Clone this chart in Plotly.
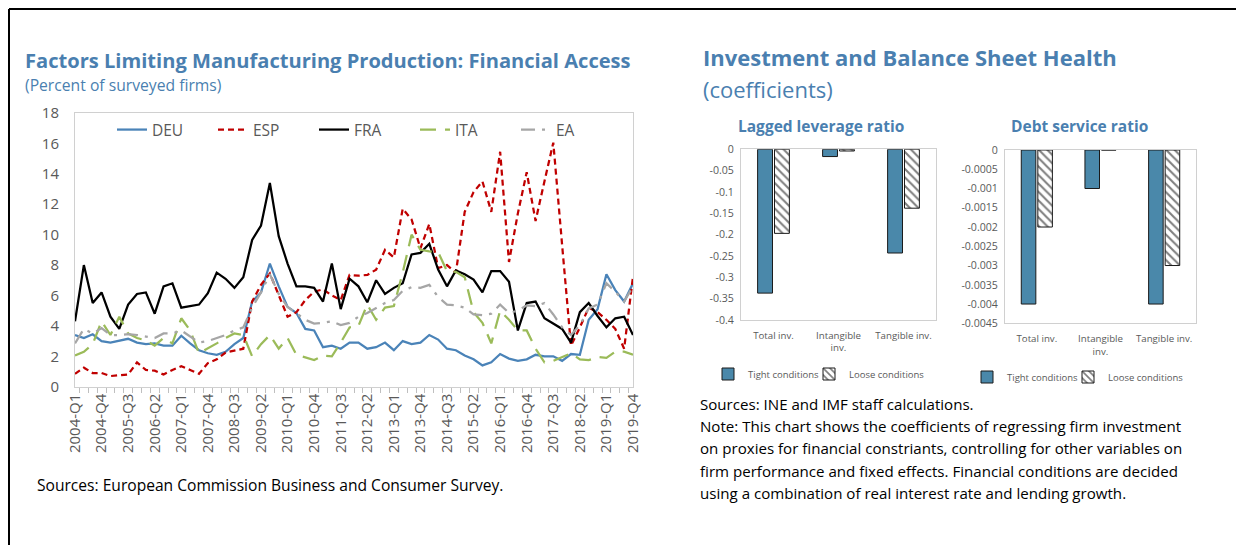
import plotly.graph_objects as go

# quarters 2004-Q1 .. 2019-Q4
quarters = [f"{y}-Q{q}" for y in range(2004, 2020) for q in range(1, 5)]

deu = [3.4, 3.2, 3.45, 3.0, 2.9, 3.05, 3.15, 2.9, 2.8, 2.85, 2.7, 2.7, 3.35, 2.85, 2.4, 2.2,
       2.1, 2.3, 2.8, 3.2, 5.6, 6.2, 8.1, 6.6, 5.25, 4.85, 3.8, 3.7, 2.6, 2.7, 2.5, 2.9,
       2.9, 2.5, 2.6, 2.9, 2.4, 3.0, 2.8, 2.9, 3.4, 3.1, 2.5, 2.4, 2.05, 1.8, 1.4, 1.6,
       2.15, 1.85, 1.7, 1.8, 2.1, 2.0, 2.0, 1.7, 2.15, 2.1, 4.4, 5.1, 7.4, 6.35, 5.6, 6.8]
esp = [0.85, 1.25, 0.9, 0.9, 0.7, 0.75, 0.8, 1.6, 1.1, 1.05, 0.8, 1.1, 1.35, 1.1, 0.85, 1.55,
       1.8, 2.25, 2.35, 2.5, 5.6, 6.7, 7.45, 6.0, 4.6, 4.9, 5.7, 6.25, 6.4, 6.0, 5.7, 7.35,
       7.3, 7.35, 7.7, 9.0, 8.5, 11.7, 11.0, 9.1, 10.7, 7.8, 8.0, 7.5, 11.5, 12.8, 13.5, 11.5,
       15.45, 8.2, 11.4, 14.1, 10.9, 13.5, 16.05, 9.3, 2.7, 3.9, 5.2, 4.9, 4.4, 3.8, 2.5, 7.25]
fra = [4.3, 8.0, 5.5, 6.2, 4.6, 3.8, 5.4, 6.1, 6.2, 4.8, 6.6, 6.8, 5.2, 5.3, 5.4, 6.15,
       7.5, 7.1, 6.5, 7.2, 9.65, 10.6, 13.4, 9.9, 8.1, 6.6, 6.6, 6.5, 5.6, 8.1, 5.1, 7.1,
       6.6, 5.55, 7.0, 6.1, 6.5, 6.8, 8.7, 8.8, 9.4, 7.7, 6.6, 7.65, 7.4, 7.05, 6.2, 7.6,
       7.6, 6.9, 3.7, 5.5, 5.6, 4.5, 4.15, 3.8, 2.9, 4.9, 5.5, 4.65, 3.9, 4.5, 4.6, 3.4]
ita = [2.05, 2.3, 2.8, 4.3, 3.4, 4.6, 3.5, 3.2, 3.05, 2.7, 3.2, 2.85, 4.5, 3.7, 2.2, 2.5,
       2.85, 3.2, 3.5, 3.4, 2.0, 2.8, 3.4, 2.5, 3.2, 2.1, 1.9, 1.75, 2.05, 2.0, 2.9, 3.9,
       4.0, 5.4, 4.4, 5.2, 5.3, 7.5, 10.0, 9.0, 8.9, 8.85, 7.6, 7.55, 7.2, 4.9, 4.2, 2.85,
       5.0, 4.4, 3.7, 3.7, 2.5, 1.6, 1.7, 1.95, 2.2, 1.8, 1.75, 1.95, 1.9, 2.3, 2.3, 2.1]
ea = [2.85, 3.8, 3.5, 3.85, 3.4, 3.4, 3.45, 3.4, 3.3, 3.2, 3.5, 3.5, 3.7, 3.3, 2.9, 3.0,
      3.2, 3.4, 3.7, 3.9, 5.2, 6.2, 7.4, 6.1, 5.25, 4.85, 4.4, 4.15, 4.2, 4.3, 4.05, 4.2,
      4.6, 4.85, 5.2, 5.5, 5.7, 6.3, 6.55, 6.5, 6.7, 5.9, 5.4, 5.35, 5.2, 4.75, 4.7, 4.8,
      5.4, 4.85, 5.0, 5.35, 5.3, 5.5, 4.75, 3.9, 3.4, 4.05, 5.15, 5.4, 6.8, 6.25, 5.6, 6.6]

inv_types = ["Total inv.", "Intangible<br>inv.", "Tangible inv."]
leverage_tight = [-0.337, -0.017, -0.243]
leverage_loose = [-0.197, -0.004, -0.138]
debt_tight = [-0.004, -0.001, -0.004]
debt_loose = [-0.002, 0, -0.003]

lev_ticks = [0, -0.05, -0.1, -0.15, -0.2, -0.25, -0.3, -0.35, -0.4]
lev_labels = ["0", "-0.05", "-0.1", "-0.15", "-0.2", "-0.25", "-0.3", "-0.35", "-0.4"]
debt_ticks = [0, -0.0005, -0.001, -0.0015, -0.002, -0.0025, -0.003, -0.0035, -0.004, -0.0045]
debt_labels = ["0", "-0.0005", "-0.001", "-0.0015", "-0.002", "-0.0025", "-0.003",
               "-0.0035", "-0.004", "-0.0045"]

notes = [
    "Sources: INE and IMF staff calculations.",
    "Note: This chart shows the coefficients of regressing firm investment",
    "on proxies for financial constriants, controlling for other variables on",
    "firm performance and fixed effects. Financial conditions are decided",
    "using a combination of real interest rate and lending growth.",
]

# page body adds an 8px margin, so the figure is 8px smaller and shifted
W, H = 1236, 537
FONT = "Segoe UI, Open Sans, sans-serif"
BLUE = "#4A7FB0"
BAR = "#4A88AA"
GREY = "#595959"

def px(x):
    return (x - 8) / W

def py(y):
    return 1 - (y - 8) / H

fig = go.Figure()

lines = [
    ("DEU", deu, "#4A83B8", "solid"),
    ("ESP", esp, "#C00000", "6px,4px"),
    ("FRA", fra, "black", "solid"),
    ("ITA", ita, "#9BBB59", "16px,9px"),
    ("EA", ea, "#A6A6A6", "14px,7px,3px,7px"),
]
for name, vals, col, dash in lines:
    fig.add_trace(go.Scatter(x=quarters, y=vals, name=name, mode="lines",
                             line=dict(color=col, width=2.25, dash=dash),
                             xaxis="x", yaxis="y", legend="legend"))

# bar panels, one legend per entry so each can be placed
panels = [(leverage_tight, leverage_loose, "x2", "y2", "legend2", "legend3"),
          (debt_tight, debt_loose, "x3", "y3", "legend4", "legend5")]
for tight, loose, xa, ya, lg_t, lg_l in panels:
    fig.add_trace(go.Bar(x=inv_types, y=tight, name="Tight conditions", xaxis=xa, yaxis=ya,
                         marker=dict(color=BAR, line=dict(color="#1a1a1a", width=1)),
                         legend=lg_t))
    fig.add_trace(go.Bar(x=inv_types, y=loose, name="Loose conditions", xaxis=xa, yaxis=ya,
                         marker=dict(color="white", line=dict(color="#1a1a1a", width=1),
                                     pattern=dict(shape="\\", fgcolor="black", bgcolor="white",
                                                  size=6, solidity=0.35)),
                         legend=lg_l))

box = dict(showline=True, mirror=True, linecolor="#D0D0D0", linewidth=1)

def bar_legend(x, y):
    return dict(orientation="h", x=px(x), y=py(y), xanchor="left", yanchor="middle",
                itemwidth=30, bgcolor="rgba(0,0,0,0)", font=dict(size=9.5, color=GREY))

fig.update_layout(
    width=W, height=H,
    margin=dict(l=0, r=0, t=0, b=0, autoexpand=False),
    paper_bgcolor="white", plot_bgcolor="white",
    font=dict(family=FONT, color=GREY),
    barmode="group", bargap=0.48, bargroupgap=0.12,
    xaxis=dict(domain=[px(75), px(633)], anchor="y", type="category",
               tickmode="array", tickvals=quarters,
               ticktext=[q if i % 3 == 0 else "" for i, q in enumerate(quarters)],
               tickson="boundaries", ticks="outside", ticklen=5, tickcolor="#BFBFBF",
               tickangle=-90, tickfont=dict(size=15, color=GREY),
               showgrid=False, **box),
    yaxis=dict(domain=[py(386.7), py(113)], anchor="x", range=[0, 18], dtick=2,
               showgrid=False, ticks="", ticklabelstandoff=12,
               tickfont=dict(size=15, color=GREY), **box),
    xaxis2=dict(domain=[px(741), px(936)], anchor="y2", showgrid=False, ticks="",
                ticklabelstandoff=6, tickfont=dict(size=9.7, color=GREY), **box),
    yaxis2=dict(domain=[py(320), py(149.3)], anchor="x2", range=[-0.4, 0],
                tickmode="array", tickvals=lev_ticks, ticktext=lev_labels,
                showgrid=False, zeroline=False, ticks="", ticklabelstandoff=4,
                tickfont=dict(size=10.6, color=GREY), **box),
    xaxis3=dict(domain=[px(1005), px(1196)], anchor="y3", showgrid=False, ticks="",
                ticklabelstandoff=6, tickfont=dict(size=9.7, color=GREY), **box),
    yaxis3=dict(domain=[py(323.3), py(150)], anchor="x3", range=[-0.0045, 0],
                tickmode="array", tickvals=debt_ticks, ticktext=debt_labels,
                showgrid=False, zeroline=False, ticks="", ticklabelstandoff=4,
                tickfont=dict(size=10.6, color=GREY), **box),
    legend=dict(orientation="h", x=px(112), y=py(130), xanchor="left", yanchor="middle",
                entrywidth=56, entrywidthmode="pixels", itemwidth=30,
                bgcolor="rgba(0,0,0,0)", font=dict(size=15.5, color=GREY)),
    legend2=bar_legend(708, 374),
    legend3=bar_legend(809, 374),
    legend4=bar_legend(967, 377),
    legend5=bar_legend(1068, 377),
    showlegend=True,
)

# frame lines
fig.add_shape(type="line", xref="paper", yref="paper", x0=px(9), x1=1, y0=py(9), y1=py(9),
              line=dict(color="black", width=2))
fig.add_shape(type="line", xref="paper", yref="paper", x0=px(9), x1=px(9), y0=py(9), y1=0,
              line=dict(color="black", width=2))

def text(x, y, s, size, color="black", bold=False, anchor="left"):
    fig.add_annotation(xref="paper", yref="paper", x=px(x), y=py(y), text=f"<b>{s}</b>" if bold else s,
                       showarrow=False, xanchor=anchor, yanchor="middle",
                       font=dict(family=FONT, size=size, color=color))

text(23, 60, "Factors Limiting Manufacturing Production: Financial Access", 20.1, BLUE, True)
text(23, 85, "(Percent of surveyed firms)", 15.7, BLUE)
text(701, 57, "Investment and Balance Sheet Health", 22, BLUE, True)
text(701, 89, "(coefficients)", 22, BLUE)
text(821, 126, "Lagged leverage ratio", 15.5, BLUE, True, "center")
text(1079, 126, "Debt service ratio", 15.5, BLUE, True, "center")
text(35, 485, "Sources: European Commission Business and Consumer Survey.", 15.6)
for k, line in enumerate(notes):
    text(698, 404 + k * 22.2, line, 15.1)

fig.write_html("out.html")
